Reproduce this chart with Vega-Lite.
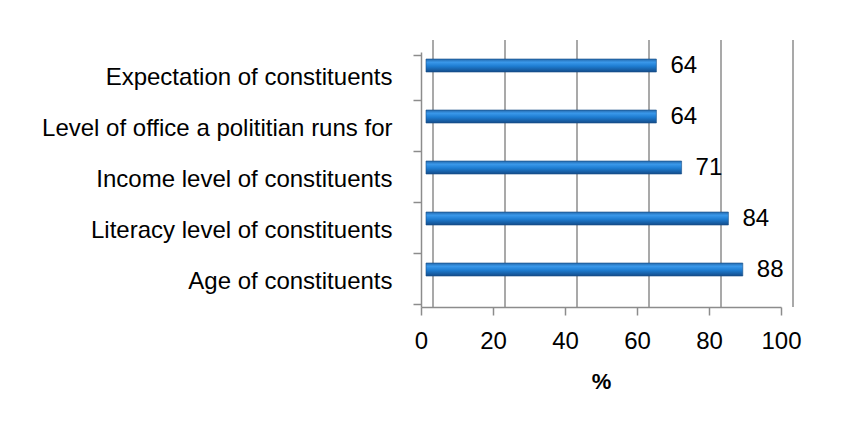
{
  "$schema": "https://vega.github.io/schema/vega-lite/v6.json",
  "width": 360,
  "height": 255,
  "autosize": "none",
  "padding": {"left": 421, "top": 52, "right": 63, "bottom": 127},
  "background": "white",
  "config": {"view": {"stroke": null}, "font": "Liberation Sans"},
  "datasets": {
    "grid": [{"v": 0}, {"v": 20}, {"v": 40}, {"v": 60}, {"v": 80}, {"v": 100}],
    "bars": [
      {"factor": "Expectation of constituents", "pct": 64},
      {"factor": "Level of office a polititian runs for", "pct": 64},
      {"factor": "Income level of constituents", "pct": 71},
      {"factor": "Literacy level of constituents", "pct": 84},
      {"factor": "Age of constituents", "pct": 88}
    ]
  },
  "layer": [
    {
      "data": {"name": "grid"},
      "mark": {"type": "rule", "color": "#8c8c8c", "strokeWidth": 1.5, "xOffset": 12, "yOffset": -12},
      "encoding": {
        "x": {"field": "v", "type": "quantitative", "scale": {"domain": [0, 100]}}
      }
    },
    {
      "data": {"name": "bars"},
      "mark": {
        "type": "bar",
        "height": 13,
        "xOffset": 5,
        "yOffset": -12,
        "stroke": "#174f88",
        "strokeWidth": 0.6,
        "color": {
          "gradient": "linear",
          "x1": 0, "y1": 0, "x2": 0, "y2": 1,
          "stops": [
            {"offset": 0, "color": "#2368ab"},
            {"offset": 0.25, "color": "#3a98ea"},
            {"offset": 0.55, "color": "#1e7dd2"},
            {"offset": 1, "color": "#134c8a"}
          ]
        }
      },
      "encoding": {
        "y": {
          "field": "factor", "type": "nominal", "sort": null,
          "axis": {
            "title": null, "tickBand": "extent", "domainColor": "#8c8c8c", "domainWidth": 1.5,
            "tickColor": "#8c8c8c", "tickWidth": 1.5, "tickSize": 8,
            "labelFontSize": 24, "labelColor": "black", "labelPadding": 21, "labelLimit": 500
          }
        },
        "x": {
          "field": "pct", "type": "quantitative", "scale": {"domain": [0, 100]},
          "axis": {
            "title": "%", "values": [0, 20, 40, 60, 80, 100], "grid": false,
            "domainColor": "#8c8c8c", "domainWidth": 1.5, "tickColor": "#8c8c8c", "tickWidth": 1.5, "tickSize": 8,
            "labelFontSize": 24, "labelColor": "black", "labelPadding": 14, "labelFlush": false,
            "titleFontSize": 22, "titleFontWeight": "bold", "titleColor": "black", "titlePadding": 18
          }
        }
      }
    },
    {
      "data": {"name": "bars"},
      "mark": {"type": "text", "align": "left", "baseline": "middle", "dx": 19, "yOffset": -12, "fontSize": 24, "color": "black"},
      "encoding": {
        "y": {"field": "factor", "type": "nominal", "sort": null},
        "x": {"field": "pct", "type": "quantitative"},
        "text": {"field": "pct", "type": "quantitative"}
      }
    }
  ]
}
